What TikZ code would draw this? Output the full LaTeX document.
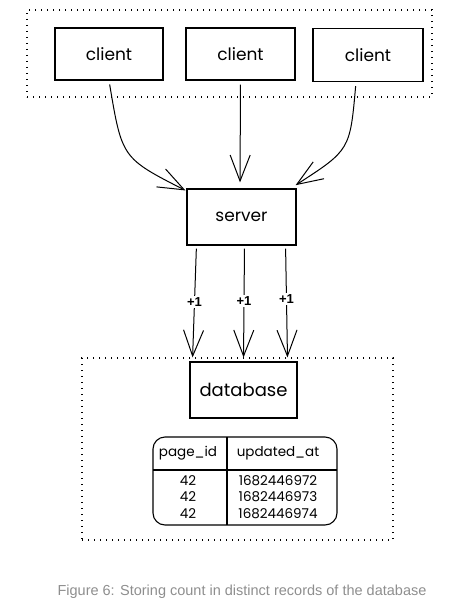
\documentclass[tikz,border=0pt]{standalone}
\usepackage{fontspec}
\setmainfont{Liberation Sans}
\newfontfamily\hand{Poppins}
\usetikzlibrary{arrows.meta}
\definecolor{capgray}{HTML}{8E8E8E}
\tikzset{
  box/.style={draw=black, line width=1.1pt, rectangle, inner sep=0pt},
  dotbox/.style={draw=black, line width=1.4pt, dash pattern=on 1.4pt off 4.6pt, rectangle, inner sep=0pt},
  conn/.style={draw=black, line width=1pt, -{Straight Barb[length=26pt,width=20pt,line width=1pt]}},
  plus/.style={fill=white, inner sep=1.5pt, font=\fontsize{13}{15}\selectfont\bfseries},
  cell/.style={font=\hand\fontsize{13.5}{15}\selectfont, inner sep=0pt},
}
\begin{document}
\begin{tikzpicture}[x=1pt,y=-1pt]
\useasboundingbox (0,0) rectangle (448,608);
% groups
\node[dotbox, minimum width=405pt, minimum height=87pt] (top) at (229.5,53.5) {};
\node[dotbox, minimum width=311pt, minimum height=182pt] (dbgroup) at (237.5,449) {};
% nodes
\node[box, minimum width=108pt, minimum height=52pt, font=\hand\fontsize{17}{19}\selectfont] (c1) at (109,54) {client};
\node[box, minimum width=109pt, minimum height=52pt, font=\hand\fontsize{17}{19}\selectfont] (c2) at (240.5,54) {client};
\node[box, minimum width=110pt, minimum height=53pt, font=\hand\fontsize{17}{19}\selectfont] (c3) at (368,55) {client};
\node[box, minimum width=109pt, minimum height=56pt, font=\hand\fontsize{17}{19}\selectfont] (server) at (241.5,217) {server};
\node[box, minimum width=107pt, minimum height=56pt, font=\hand\fontsize{18}{20}\selectfont] (database) at (243.5,390) {database};
% table
\node[draw=black, line width=1.1pt, rounded corners=12pt, minimum width=184pt, minimum height=88pt, inner sep=0pt] (table) at (245,481) {};
\coordinate (hl) at (153,470);
\coordinate (hr) at (337,470);
\coordinate (vt) at (227,437);
\coordinate (vb) at (227,525);
\draw[line width=1.1pt] (hl) -- (hr);
\draw[line width=1.1pt] (vt) -- (vb);
\node[cell] (h1) at (188,453) {page\_id};
\node[cell] (h2) at (278,453) {updated\_at};
\node[cell] (r1a) at (188,481) {42};
\node[cell] (r1b) at (278,481) {1682446972};
\node[cell] (r2a) at (188,497) {42};
\node[cell] (r2b) at (278,497) {1682446973};
\node[cell] (r3a) at (188,514) {42};
\node[cell] (r3b) at (278,514) {1682446974};
% connectors clients -> server
\draw[conn, shorten <=4pt] (c1.south) .. controls (122,158) .. ([xshift=-1pt,yshift=-2pt]server.north west);
\draw[conn, shorten <=4pt, shorten >=6pt] (c2.south) -- ([xshift=-1.5pt]server.north);
\draw[conn, shorten <=4pt, shorten >=6pt] ([xshift=-12pt]c3.south) .. controls (350,150) .. ([xshift=-6pt]server.north east);
% server -> database
\draw[conn, shorten <=3pt, shorten >=4pt] ([xshift=10pt]server.south west) -- node[plus, pos=0.49] {+1} ([xshift=3pt]database.north west);
\draw[conn, shorten <=3pt, shorten >=4pt] ([xshift=3pt]server.south) -- node[plus, pos=0.48] {+1} (database.north);
\draw[conn, shorten <=3pt, shorten >=4pt] ([xshift=-11pt]server.south east) -- node[plus, pos=0.46] {+1} ([xshift=-10pt]database.north east);
% caption
\node[text=capgray, font=\fontsize{14.5}{17}\selectfont, inner sep=0pt] (caption) at (242,592) {Figure 6: Storing count in distinct records of the database};
\end{tikzpicture}
\end{document}
